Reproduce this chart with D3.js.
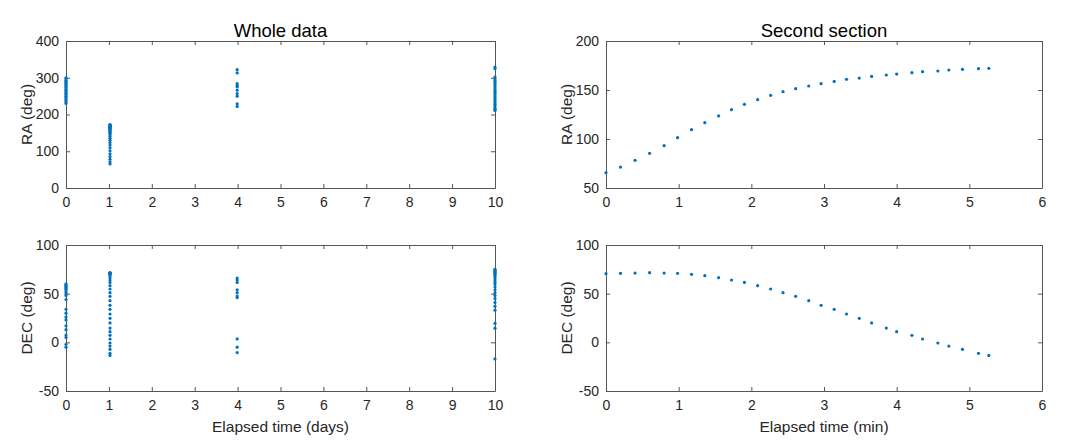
<!DOCTYPE html>
<html><head><meta charset="utf-8">
<script src="https://cdn.jsdelivr.net/npm/d3@7"></script>
<style>
body{margin:0;background:#fff;}
svg{font-family:Arial,"Liberation Sans",Helvetica,sans-serif;}
</style></head>
<body><svg id="c" width="1070" height="442"></svg>
<script>
// ---- Data ----
// Second section: elapsed time (min), RA (deg), DEC (deg)
const secTime = [0,0.20,0.40,0.60,0.80,0.985,1.177,1.36,1.55,1.727,1.905,2.087,2.266,2.436,2.61,2.79,2.96,3.14,3.31,3.485,3.655,3.857,4.0,4.21,4.356,4.567,4.718,4.906,5.126,5.268];
const secRA = [65.6,71.4,78.2,85.4,93.2,101.4,109.5,116.7,123.5,129.9,135.4,140.1,144.6,148.3,151.4,154.1,156.5,158.8,160.9,162.2,163.9,165.3,166.3,167.7,168.7,169.4,170.4,171.1,171.8,172.1];
const secDEC = [70.5,70.9,71.2,71.6,71.2,70.9,69.9,68.5,66.4,64.0,61.6,58.2,54.8,51.0,47.3,42.8,38.0,33.9,29.1,24.7,19.9,14.7,11.0,7.2,3.4,-0.7,-3.8,-7.2,-11.3,-13.4];

// Whole data: start day of each observed section
const sectionDay = [0, 1.026, 3.99, 10.0];
const s1RA = [300,297,293,290,287,284,281,278,275,272,268,265,262,258,254,250,246,242,238,234,230];
const s1DEC = [60,59,58,57,56,55,54,52,50,48,44,34,30,26,23,17,13,7.5,5,-2,-5];
const s3RA = [322,313,284,279,275,266,257,250,229,222];
const s3DEC = [66,64,61.5,54,51,47.5,46,3.5,-5,-10.5];
const s4RA = [329,325,302,297,292,288,283,278,273,268,263,258,253,248,243,238,233,228,223,218,214,211];
const s4DEC = [75,74,73,72,71,70,68,66,64,62,60,57,54,51,48,45,41,37,33,19.5,14.5,-17];

const xTicksDays = [0,1,2,3,4,5,6,7,8,9,10];
const xTicksMin = [0,1,2,3,4,5,6];
const raTicksWhole = [0,100,200,300,400];
const raTicksSec = [50,100,150,200];
const decTicks = [-50,0,50,100];

const titles = ["Whole data","Second section"];
const xLabels = ["Elapsed time (days)","Elapsed time (min)"];
const yLabels = ["RA (deg)","DEC (deg)"];

// ---- Build point sets ----
const sectionsRA = [s1RA, secRA, s3RA, s4RA];
const sectionsDEC = [s1DEC, secDEC, s3DEC, s4DEC];
const wholeRA = [], wholeDEC = [];
sectionsRA.forEach((arr,i)=>arr.forEach(v=>wholeRA.push({x:sectionDay[i],y:v})));
sectionsDEC.forEach((arr,i)=>arr.forEach(v=>wholeDEC.push({x:sectionDay[i],y:v})));
const secRAPts = secTime.map((t,i)=>({x:t,y:secRA[i]}));
const secDECPts = secTime.map((t,i)=>({x:t,y:secDEC[i]}));

const svg = d3.select("#c");
const axisCol = "#262626";
const dotCol = "#0072BD";
const fmt = d => String(d);

function panel(cfg){
  const g = svg.append("g");
  const x = d3.scaleLinear().domain(cfg.xd).range([cfg.x0,cfg.x1]);
  const y = d3.scaleLinear().domain(cfg.yd).range([cfg.y1,cfg.y0]);
  const tk = 4;
  g.append("g").attr("transform",`translate(0,${cfg.y1})`)
    .call(d3.axisBottom(x).tickValues(cfg.xt).tickSizeInner(-tk).tickSizeOuter(0).tickPadding(9).tickFormat(fmt));
  g.append("g").attr("transform",`translate(0,${cfg.y0})`)
    .call(d3.axisTop(x).tickValues(cfg.xt).tickSizeInner(-tk).tickSizeOuter(0).tickFormat(""));
  g.append("g").attr("transform",`translate(${cfg.x0},0)`)
    .call(d3.axisLeft(y).tickValues(cfg.yt).tickSizeInner(-tk).tickSizeOuter(0).tickPadding(7).tickFormat(fmt));
  g.append("g").attr("transform",`translate(${cfg.x1},0)`)
    .call(d3.axisRight(y).tickValues(cfg.yt).tickSizeInner(-tk).tickSizeOuter(0).tickFormat(""));
  g.selectAll(".domain").attr("stroke","#555").attr("stroke-width",1);
  g.selectAll(".tick line").attr("stroke","#555");
  g.selectAll(".tick text").attr("fill",axisCol).style("font-size","14px");
  g.append("g").selectAll("circle").data(cfg.pts).join("circle")
    .attr("cx",d=>x(d.x)).attr("cy",d=>y(d.y)).attr("r",1.6).attr("fill",dotCol);
  g.append("text").attr("transform",`translate(${cfg.x0-39},${(cfg.y0+cfg.y1)/2}) rotate(-90)`)
    .attr("text-anchor","middle").attr("dy","0.35em").attr("fill",axisCol).style("font-size","15.5px").text(cfg.ylab);
  if(cfg.title){
    g.append("text").attr("x",(cfg.x0+cfg.x1)/2).attr("y",cfg.y0-4).attr("text-anchor","middle")
      .attr("fill","#000").style("font-size","18.5px").text(cfg.title);
  }
  if(cfg.xlab){
    g.append("text").attr("x",(cfg.x0+cfg.x1)/2).attr("y",cfg.y1+41).attr("text-anchor","middle")
      .attr("fill",axisCol).style("font-size","15.5px").text(cfg.xlab);
  }
}

const L = {x0:66,x1:495}, R = {x0:606,x1:1042};
const T = {y0:41,y1:188}, B = {y0:245,y1:391};

panel({...L,...T,xd:[0,10],yd:[0,400],xt:xTicksDays,yt:raTicksWhole,pts:wholeRA,ylab:yLabels[0],title:titles[0]});
panel({...L,...B,xd:[0,10],yd:[-50,100],xt:xTicksDays,yt:decTicks,pts:wholeDEC,ylab:yLabels[1],xlab:xLabels[0]});
panel({...R,...T,xd:[0,6],yd:[50,200],xt:xTicksMin,yt:raTicksSec,pts:secRAPts,ylab:yLabels[0],title:titles[1]});
panel({...R,...B,xd:[0,6],yd:[-50,100],xt:xTicksMin,yt:decTicks,pts:secDECPts,ylab:yLabels[1],xlab:xLabels[1]});
</script></body></html>
